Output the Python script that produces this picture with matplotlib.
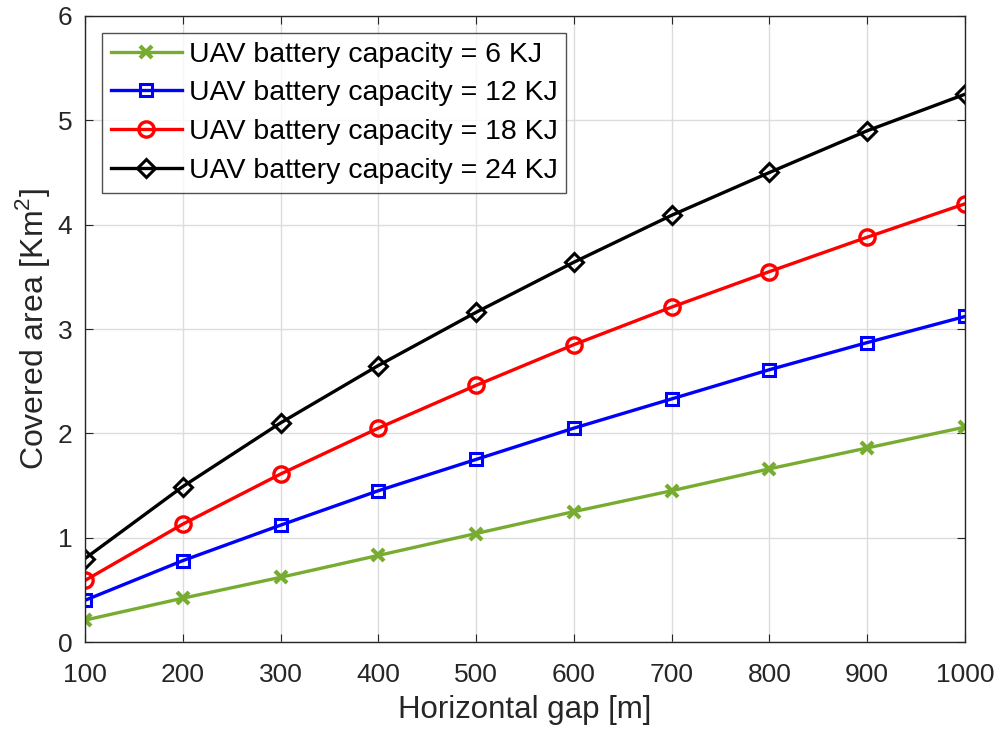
import matplotlib; matplotlib.use("Agg")
import matplotlib.pyplot as plt

plt.rcParams['font.family'] = ['Liberation Sans', 'DejaVu Sans']
plt.rcParams['mathtext.fontset'] = 'custom'
plt.rcParams['mathtext.rm'] = 'Liberation Sans'

# data
gap = [100, 200, 300, 400, 500, 600, 700, 800, 900, 1000]
area_6kj = [0.21, 0.42, 0.62, 0.83, 1.04, 1.25, 1.45, 1.66, 1.86, 2.06]
area_12kj = [0.40, 0.78, 1.12, 1.45, 1.75, 2.05, 2.33, 2.61, 2.87, 3.12]
area_18kj = [0.59, 1.13, 1.61, 2.05, 2.46, 2.85, 3.21, 3.55, 3.88, 4.20]
area_24kj = [0.80, 1.49, 2.10, 2.65, 3.16, 3.64, 4.09, 4.50, 4.90, 5.25]

fig = plt.figure(figsize=(10.03, 7.33), dpi=100)
ax = fig.add_axes([0.0847, 0.1241, 0.8774, 0.8541])

lw = 2.4
ax.plot(gap, area_6kj, '-x', color='#77AC30', lw=lw, ms=9, mew=3,
        label='UAV battery capacity = 6 KJ')
ax.plot(gap, area_12kj, '-s', color='#0000FF', lw=lw, ms=9, mew=2.2, mfc='none',
        label='UAV battery capacity = 12 KJ')
ax.plot(gap, area_18kj, '-o', color='#FF0000', lw=lw, ms=11, mew=2.4, mfc='none',
        label='UAV battery capacity = 18 KJ')
ax.plot(gap, area_24kj, '-D', color='black', lw=lw, ms=9.5, mew=2.2, mfc='none',
        label='UAV battery capacity = 24 KJ')

ax.set_xlim(100, 1000); ax.set_ylim(0, 6)
ax.set_xticks(gap); ax.set_yticks(range(7))
ax.grid(True, color='#dcdcdc', lw=1)
ax.tick_params(labelsize=19, direction='in', length=6, color='#262626',
               top=True, right=True, labelcolor='#262626')
ax.tick_params(axis='x', pad=15)
ax.tick_params(axis='y', pad=9)
for s in ax.spines.values():
    s.set_color('#262626'); s.set_linewidth(1)
ax.set_xlabel("Horizontal gap [m]", fontsize=22.5, color='#262626', labelpad=6)
ax.set_ylabel("Covered area [Km$^{\\mathregular{2}}$]", fontsize=23, color='#262626', labelpad=4)

leg = ax.legend(loc='upper left', fontsize=20.5, frameon=True, fancybox=False,
                edgecolor='#262626', handlelength=2.5, handletextpad=0.25,
                borderaxespad=0.6, labelspacing=0.45, borderpad=0.3)
leg.get_frame().set_linewidth(1)

fig.savefig("out.png", dpi=100)
